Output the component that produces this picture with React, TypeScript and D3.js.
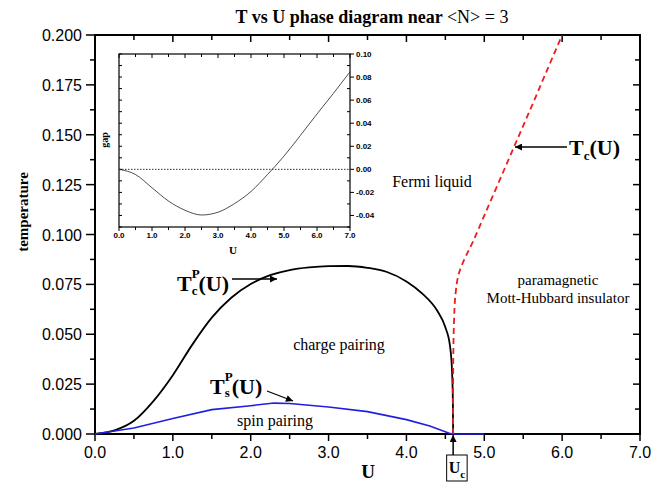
import React from "react";
import * as d3 from "d3";

// main phase diagram data
const uTicks = [0, 1, 2, 3, 4, 5, 6, 7];
const tTicks = [0, 0.025, 0.05, 0.075, 0.1, 0.125, 0.15, 0.175, 0.2];

const chargeU = [0, 0.25, 0.5, 0.75, 1.0, 1.25, 1.5, 1.75, 2.0, 2.25, 2.5, 2.75, 3.0, 3.25, 3.5, 3.75, 4.0, 4.2, 4.4, 4.5, 4.56, 4.585, 4.597, 4.6];
const chargeT = [0, 0.0018, 0.0066, 0.0165, 0.0295, 0.0448, 0.0583, 0.0683, 0.0752, 0.0796, 0.0822, 0.0835, 0.0841, 0.0842, 0.0833, 0.0812, 0.0765, 0.0705, 0.0615, 0.0535, 0.044, 0.032, 0.015, 0];

const spinU = [0, 0.5, 1.0, 1.5, 2.0, 2.3, 2.5, 3.0, 3.5, 4.0, 4.3, 4.55, 4.6, 5.0];
const spinT = [0, 0.003, 0.0078, 0.0122, 0.0142, 0.0155, 0.0153, 0.0135, 0.0112, 0.0072, 0.004, 0.0004, 0, 0];

const mottU = [4.6, 4.6, 4.61, 4.63, 4.67, 4.75, 4.85, 5.0, 5.2, 5.4, 5.6, 5.8, 6.0];
const mottT = [0, 0.03, 0.055, 0.07, 0.08, 0.088, 0.096, 0.1095, 0.1275, 0.1455, 0.1635, 0.1818, 0.2];

// inset: gap vs U
const gapUTicks = [0, 1, 2, 3, 4, 5, 6, 7];
const gapTicks = [-0.04, -0.02, 0, 0.02, 0.04, 0.06, 0.08, 0.1];
const gapU = [0, 0.5, 1.0, 1.5, 2.0, 2.5, 3.0, 3.5, 4.0, 4.5, 5.0, 5.5, 6.0, 6.5, 7.0];
const gapVal = [0, -0.0045, -0.016, -0.0275, -0.0355, -0.0396, -0.0372, -0.0297, -0.0192, -0.0045, 0.0115, 0.0295, 0.048, 0.066, 0.0845];

const serif = "'Liberation Serif', 'Times New Roman', serif";
const sans = "'Liberation Sans', Arial, sans-serif";

function App() {
  const width = 670;
  const height = 482;
  const x = d3.scaleLinear().domain([0, 7]).range([95, 640]);
  const y = d3.scaleLinear().domain([0, 0.2]).range([434, 35]);
  const ix = d3.scaleLinear().domain([0, 7]).range([119, 350]);
  const iy = d3.scaleLinear().domain([-0.05, 0.1]).range([227, 54]);

  const chargeLine = d3.line<number>().x((d, i) => x(chargeU[i])).y((d) => y(d)).curve(d3.curveMonotoneX);
  const spinLine = d3.line<number>().x((d, i) => x(spinU[i])).y((d) => y(d));
  const mottLine = d3.line<number>().x((d, i) => x(mottU[i])).y((d) => y(d)).curve(d3.curveCatmullRom.alpha(0.5));
  const gapLine = d3.line<number>().x((d, i) => ix(gapU[i])).y((d) => iy(d)).curve(d3.curveMonotoneX);

  const uMinor = d3.range(0, 7.01, 0.5);
  const tMinor = d3.range(0, 0.2001, 0.0125);
  const gMinor = d3.range(-0.05, 0.1001, 0.01);
  const [x0, x1] = x.range();
  const [y0, y1] = y.range();
  const [ix0, ix1] = ix.range();
  const [iy0, iy1] = iy.range();
  const uc = 4.6;

  return (
    <svg width={width} height={height} style={{ position: "absolute", left: 0, top: 0, background: "#fff" }}>
      <defs>
        <marker id="ah" viewBox="0 0 10 10" refX="10" refY="5" markerWidth="9" markerHeight="7" orient="auto" markerUnits="userSpaceOnUse">
          <path d="M0,0 L10,5 L0,10 z" fill="#000" />
        </marker>
      </defs>
      <rect width={width} height={height} fill="#fff" />

      <text x={372} y={23} textAnchor="middle" fontFamily={serif} fontSize={18} fontWeight="bold">
        T vs U phase diagram near <tspan fontWeight="normal">{"<N> = 3"}</tspan>
      </text>

      {/* main frame */}
      <rect x={x0} y={y1} width={x1 - x0} height={y0 - y1} fill="none" stroke="#000" strokeWidth={2} />

      {/* bottom ticks (outward) + top ticks (inward) */}
      {uMinor.map((u, i) => {
        const major = i % 2 === 0;
        return (
          <g key={"ux" + i}>
            <line x1={x(u)} x2={x(u)} y1={y0} y2={y0 + (major ? 7 : 5)} stroke="#000" strokeWidth={1.5} />
            <line x1={x(u)} x2={x(u)} y1={y1} y2={y1 + (major ? 7 : 5)} stroke="#000" strokeWidth={1.5} />
          </g>
        );
      })}
      {uTicks.map((u) => (
        <text key={"ul" + u} x={x(u)} y={458} textAnchor="middle" fontFamily={sans} fontSize={16}>
          {u.toFixed(1)}
        </text>
      ))}

      {/* left ticks (outward) + right ticks (inward) */}
      {tMinor.map((t, i) => {
        const major = i % 2 === 0;
        return (
          <g key={"ty" + i}>
            <line x1={x0 - (major ? 9 : 5)} x2={x0} y1={y(t)} y2={y(t)} stroke="#000" strokeWidth={1.5} />
            <line x1={x1 - (major ? 7 : 5)} x2={x1} y1={y(t)} y2={y(t)} stroke="#000" strokeWidth={1.5} />
          </g>
        );
      })}
      {tTicks.map((t) => (
        <text key={"tl" + t} x={82} y={y(t) + 6} textAnchor="end" fontFamily={sans} fontSize={16}>
          {t.toFixed(3)}
        </text>
      ))}

      <text x={368} y={478} textAnchor="middle" fontFamily={serif} fontSize={19} fontWeight="bold">U</text>
      <text transform="translate(28,212) rotate(-90)" textAnchor="middle" fontFamily={serif} fontSize={15} fontWeight="bold">
        temperature
      </text>

      {/* curves */}
      <path d={chargeLine(chargeT) || ""} fill="none" stroke="#000" strokeWidth={1.8} />
      <path d={spinLine(spinT) || ""} fill="none" stroke="#1f1fe0" strokeWidth={1.6} />
      <path d={mottLine(mottT) || ""} fill="none" stroke="#ee1c1c" strokeWidth={1.8} strokeDasharray="6,4" />

      {/* annotations */}
      <text x={177} y={291} fontFamily={serif} fontWeight="bold" fontSize={22}>
        T<tspan dy={-13} fontSize={13}>P</tspan>
        <tspan dx={-8} dy={17} fontSize={13}>c</tspan>
        <tspan dx={1} dy={-4}>(U)</tspan>
      </text>
      <line x1={232} y1={279} x2={277} y2={279} stroke="#000" strokeWidth={1.3} markerEnd="url(#ah)" />

      <text x={210} y={394} fontFamily={serif} fontWeight="bold" fontSize={22}>
        T<tspan dy={-13} fontSize={13}>P</tspan>
        <tspan dx={-8} dy={16} fontSize={13}>s</tspan>
        <tspan dx={2} dy={-3}>(U)</tspan>
      </text>
      <line x1={267} y1={391} x2={293} y2={401} stroke="#000" strokeWidth={1.3} markerEnd="url(#ah)" />

      <text x={569} y={155} fontFamily={serif} fontWeight="bold" fontSize={22}>
        T<tspan dy={5} fontSize={13}>c</tspan>
        <tspan dy={-5}>(U)</tspan>
      </text>
      <line x1={567} y1={147} x2={515} y2={147} stroke="#000" strokeWidth={1.3} markerEnd="url(#ah)" />

      <text x={339} y={350} textAnchor="middle" fontFamily={serif} fontSize={16}>charge pairing</text>
      <text x={275} y={426} textAnchor="middle" fontFamily={serif} fontSize={16}>spin pairing</text>
      <text x={432} y={187} textAnchor="middle" fontFamily={serif} fontSize={16}>Fermi liquid</text>
      <text x={558} y={285} textAnchor="middle" fontFamily={serif} fontSize={15}>paramagnetic</text>
      <text x={558} y={303} textAnchor="middle" fontFamily={serif} fontSize={15}>Mott-Hubbard insulator</text>

      {/* U_c marker */}
      <line x1={x(uc)} y1={455} x2={x(uc)} y2={435} stroke="#000" strokeWidth={1.5} markerEnd="url(#ah)" />
      <rect x={x(uc) - 6.5} y={455} width={20.5} height={26} fill="#fff" stroke="#000" strokeWidth={1} />
      <text x={x(uc) - 4.5} y={473} fontFamily={serif} fontWeight="bold" fontSize={16}>
        U<tspan dy={5} fontSize={11}>c</tspan>
      </text>

      {/* inset */}
      <rect x={ix0} y={iy1} width={ix1 - ix0} height={iy0 - iy1} fill="#fff" stroke="#000" strokeWidth={1.2} />
      {uMinor.map((u, i) => {
        const major = i % 2 === 0;
        return (
          <g key={"ix" + i}>
            <line x1={ix(u)} x2={ix(u)} y1={iy0} y2={iy0 + (major ? 4 : 3)} stroke="#000" strokeWidth={1} />
            <line x1={ix(u)} x2={ix(u)} y1={iy1} y2={iy1 + (major ? 4 : 3)} stroke="#000" strokeWidth={1} />
          </g>
        );
      })}
      {gapUTicks.map((u) => (
        <text key={"il" + u} x={ix(u)} y={238} textAnchor="middle" fontFamily={sans} fontSize={8} fontWeight="bold">
          {u.toFixed(1)}
        </text>
      ))}
      {gMinor.map((g, i) => {
        const major = i % 2 === 1;
        return (
          <g key={"iy" + i}>
            <line x1={ix0} x2={ix0 + 3} y1={iy(g)} y2={iy(g)} stroke="#000" strokeWidth={1} />
            <line x1={ix1} x2={ix1 + (major ? 4 : 0)} y1={iy(g)} y2={iy(g)} stroke="#000" strokeWidth={1} />
            {!major && <line x1={ix1 - 3} x2={ix1} y1={iy(g)} y2={iy(g)} stroke="#000" strokeWidth={1} />}
          </g>
        );
      })}
      {gapTicks.map((g) => (
        <text key={"gl" + g} x={356} y={iy(g) + 3} fontFamily={sans} fontSize={8} fontWeight="bold">
          {g.toFixed(2)}
        </text>
      ))}
      <line x1={ix0} x2={ix1} y1={iy(0)} y2={iy(0)} stroke="#333" strokeWidth={1} strokeDasharray="1.5,1.5" />
      <path d={gapLine(gapVal) || ""} fill="none" stroke="#222" strokeWidth={0.8} />
      <text x={233} y={254} textAnchor="middle" fontFamily={serif} fontSize={11} fontWeight="bold">U</text>
      <text transform="translate(108,140) rotate(-90)" textAnchor="middle" fontFamily={serif} fontSize={10} fontWeight="bold">gap</text>
    </svg>
  );
}

export default App;
